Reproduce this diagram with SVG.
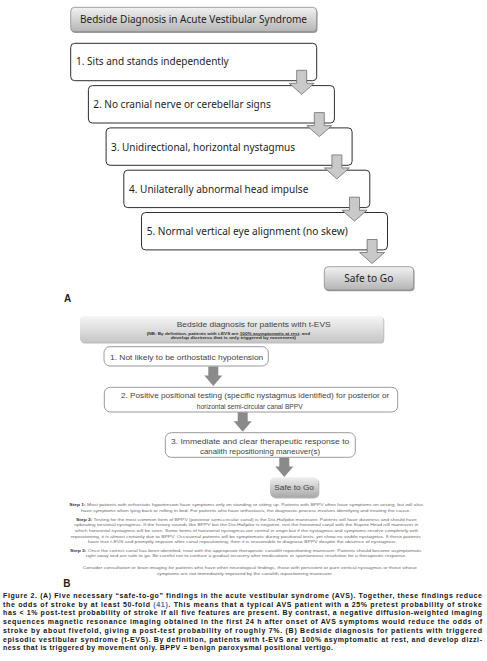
<svg xmlns="http://www.w3.org/2000/svg" width="487" height="661" viewBox="0 0 487 661">
<style>
.bg{fill:#ffffff}
.boxA{fill:#ffffff;stroke:#2e2e2e;stroke-width:1}
.txtA{font-family:"Noto Sans","Liberation Sans",sans-serif;font-size:10px;fill:#1e1e1e}
.arrA{fill:#c9c9c9;stroke:#6e6e6e;stroke-width:0.8}
.boxB{fill:#ffffff;stroke:#9a9a9a;stroke-width:1}
.txtB{font-family:"Liberation Sans",Arial,sans-serif;font-size:7.2px;fill:#444444}
.arrB{fill:#8a8a8a}
.fine{font-family:"Liberation Sans",Arial,sans-serif;font-size:4.3px;fill:#6a6a6a}
.fineb{font-weight:bold;fill:#333}
.nb{font-family:"Liberation Sans",Arial,sans-serif;font-size:4px;font-weight:bold;fill:#333}
.lbl{font-family:"Liberation Sans",Arial,sans-serif;font-size:10px;font-weight:bold;fill:#222}
.cap{font-family:"Liberation Sans",Arial,sans-serif;font-size:7px;font-weight:bold;fill:#151515}
</style>
<defs>
<linearGradient id="gA" x1="0" y1="0" x2="0" y2="1">
<stop offset="0" stop-color="#f2f2f2"/>
<stop offset="1" stop-color="#b4b4b4"/>
</linearGradient>
<linearGradient id="gB" x1="0" y1="0" x2="0" y2="1">
<stop offset="0" stop-color="#f6f6f6"/>
<stop offset="1" stop-color="#c6c6c6"/>
</linearGradient>
<linearGradient id="gS" x1="0" y1="0" x2="0" y2="1">
<stop offset="0" stop-color="#f0f0f0"/>
<stop offset="1" stop-color="#a8a8a8"/>
</linearGradient>
<path id="arrowA" d="M-5,0 H5 V13 H12.5 L0,24 L-12.5,13 H-5 Z"/>
<path id="arrowB" d="M-5,0 H5 V9 H9 L0,19.5 L-9,9 H-5 Z"/>
</defs>
<rect class="bg" x="0" y="0" width="487" height="661"/>

<g id="nodes-A">
<g id="titleA">
<rect x="71.5" y="8.5" width="246" height="24.5" rx="4" fill="#9a9a9a"/>
<rect x="70.7" y="7.3" width="246" height="24.4" rx="4" fill="url(#gA)" stroke="#8a8a8a" stroke-width="0.8"/>
<text class="txtA" x="80" y="23" textLength="227" lengthAdjust="spacingAndGlyphs">Bedside Diagnosis in Acute Vestibular Syndrome</text>
</g>
<g id="a1">
<rect class="boxA" x="70.7" y="43.3" width="246" height="37.4" rx="4"/>
<text class="txtA" x="76" y="65" textLength="152.7" lengthAdjust="spacingAndGlyphs">1. Sits and stands independently</text>
</g>
<g id="a2">
<rect class="boxA" x="88.4" y="85.6" width="246" height="37.4" rx="4"/>
<text class="txtA" x="93.3" y="108" textLength="177.4" lengthAdjust="spacingAndGlyphs">2. No cranial nerve or cerebellar signs</text>
</g>
<g id="a3">
<rect class="boxA" x="106.1" y="127.9" width="246" height="37.4" rx="4"/>
<text class="txtA" x="111" y="150.7" textLength="184" lengthAdjust="spacingAndGlyphs">3. Unidirectional, horizontal nystagmus</text>
</g>
<g id="a4">
<rect class="boxA" x="123.8" y="170.2" width="246" height="37.4" rx="4"/>
<text class="txtA" x="129" y="193" textLength="179.3" lengthAdjust="spacingAndGlyphs">4. Unilaterally abnormal head impulse</text>
</g>
<g id="a5">
<rect class="boxA" x="141.5" y="212.5" width="246" height="37.4" rx="4"/>
<text class="txtA" x="146.7" y="235.3" textLength="201" lengthAdjust="spacingAndGlyphs">5. Normal vertical eye alignment (no skew)</text>
</g>
<g id="safeA">
<rect x="325.1" y="267.8" width="89.4" height="23.4" rx="4" fill="#9a9a9a"/>
<rect x="324.3" y="266.7" width="89.4" height="23.3" rx="4" fill="url(#gA)" stroke="#8a8a8a" stroke-width="0.8"/>
<text class="txtA" x="344.3" y="282" textLength="49" lengthAdjust="spacingAndGlyphs">Safe to Go</text>
</g>
</g>

<g id="connectors-A">
<use href="#arrowA" class="arrA" transform="translate(301.7,70.3)"/>
<use href="#arrowA" class="arrA" transform="translate(319.3,112.6)"/>
<use href="#arrowA" class="arrA" transform="translate(336.9,154.9)"/>
<use href="#arrowA" class="arrA" transform="translate(354.5,197.2)"/>
<use href="#arrowA" class="arrA" transform="translate(372.1,239.5)"/>
</g>

<text class="lbl" x="64" y="302">A</text>

<g id="nodes-B">
<g id="titleB">
<rect x="81" y="317.3" width="303.3" height="26.3" rx="4" fill="#bdbdbd"/>
<rect x="80" y="316" width="303.3" height="26.3" rx="4" fill="url(#gB)"/>
<text class="txtB" x="176.7" y="327" font-size="7.5" fill="#555" textLength="154" lengthAdjust="spacingAndGlyphs">Bedside diagnosis for patients with t-EVS</text>
<text class="nb" x="146.7" y="334.5" textLength="163.3" lengthAdjust="spacingAndGlyphs">(NB: By definition, patients with t-EVS are <tspan text-decoration="underline">100% asymptomatic at rest</tspan>, and</text>
<text class="nb" x="170.7" y="339.2" textLength="125.3" lengthAdjust="spacingAndGlyphs">develop dizziness that is only triggered by movement)</text>
</g>
<g id="b1">
<rect class="boxB" x="104" y="346.7" width="164.3" height="19.3" rx="6"/>
<text class="txtB" x="110" y="359.6" textLength="153.3" lengthAdjust="spacingAndGlyphs">1. Not likely to be orthostatic hypotension</text>
</g>
<g id="b2">
<rect class="boxB" x="104.3" y="387.3" width="293.4" height="24.7" rx="6"/>
<text class="txtB" x="121" y="398.3" textLength="268.3" lengthAdjust="spacingAndGlyphs">2. Positive positional testing (specific nystagmus identified) for posterior or</text>
<text class="txtB" x="196.7" y="408.6" textLength="106" lengthAdjust="spacingAndGlyphs">horizontal semi-circular canal BPPV</text>
</g>
<g id="b3">
<rect class="boxB" x="165.3" y="432.7" width="190" height="24.6" rx="6"/>
<text class="txtB" x="171" y="443.6" font-size="7.8" textLength="178.3" lengthAdjust="spacingAndGlyphs">3. Immediate and clear therapeutic response to</text>
<text class="txtB" x="200" y="454.3" font-size="7.8" textLength="120" lengthAdjust="spacingAndGlyphs">canalith repositioning maneuver(s)</text>
</g>
<g id="safeB">
<rect x="271" y="478.5" width="48.3" height="20" rx="5" fill="#b5b5b5"/>
<rect x="270" y="477.3" width="48.3" height="20" rx="5" fill="url(#gS)"/>
<text class="txtB" x="274.3" y="490.3" font-size="8" fill="#444" textLength="39.7" lengthAdjust="spacingAndGlyphs">Safe to Go</text>
</g>
</g>

<g id="connectors-B">
<use href="#arrowB" class="arrB" transform="translate(213.3,366.5)"/>
<use href="#arrowB" class="arrB" transform="translate(242.7,412.3)"/>
<use href="#arrowB" class="arrB" transform="translate(284.3,457.5)"/>
</g>

<g id="notesB">
<text class="fine" x="69.3" y="505.8" textLength="353.4" lengthAdjust="spacingAndGlyphs"><tspan class="fineb">Step 1:</tspan> Most patients with orthostatic hypotension have symptoms only on standing or sitting up. Patients with BPPV often have symptoms on arising, but will also</text>
<text class="fine" x="81" y="511.5" textLength="329.7" lengthAdjust="spacingAndGlyphs">have symptoms when lying back or rolling in bed. For patients who have orthostasis, the diagnostic process involves identifying and treating the cause.</text>
<text class="fine" x="76" y="520.8" textLength="340.7" lengthAdjust="spacingAndGlyphs"><tspan class="fineb">Step 2:</tspan> Testing for the most common form of BPPV (posterior semi-circular canal) is the Dix-Hallpike maneuver. Patients will have dizziness and should have</text>
<text class="fine" x="74" y="526.4" textLength="344.3" lengthAdjust="spacingAndGlyphs">upbeating torsional nystagmus. If the history sounds like BPPV but the Dix-Hallpike is negative, test the horizontal canal with the Supine Head roll maneuver in</text>
<text class="fine" x="75" y="532" textLength="343.3" lengthAdjust="spacingAndGlyphs">which horizontal nystagmus will be seen. Some forms of horizontal nystagmus are central in origin but if the nystagmus and symptoms resolve completely with</text>
<text class="fine" x="70.7" y="537.6" textLength="350" lengthAdjust="spacingAndGlyphs">repositioning, it is almost certainly due to BPPV. Occasional patients will be symptomatic during positional tests, yet show no visible nystagmus. If these patients</text>
<text class="fine" x="88" y="543.4" textLength="308.7" lengthAdjust="spacingAndGlyphs">have true t-EVS and promptly improve after canal repositioning, then it is reasonable to diagnose BPPV despite the absence of nystagmus.</text>
<text class="fine" x="70" y="551.5" textLength="351.7" lengthAdjust="spacingAndGlyphs"><tspan class="fineb">Step 3:</tspan> Once the correct canal has been identified, treat with the appropriate therapeutic canalith repositioning maneuver. Patients should become asymptomatic</text>
<text class="fine" x="86" y="557.2" textLength="320.7" lengthAdjust="spacingAndGlyphs">right away and are safe to go. Be careful not to confuse a gradual recovery after medications or spontaneous resolution for a therapeutic response.</text>
<text class="fine" x="82.7" y="568.8" textLength="334" lengthAdjust="spacingAndGlyphs">Consider consultation or brain imaging for patients who have other neurological findings, those with persistent or pure vertical nystagmus or those whose</text>
<text class="fine" x="156.7" y="574.8" textLength="176" lengthAdjust="spacingAndGlyphs">symptoms are not immediately improved by the canalith repositioning maneuver.</text>
</g>

<text class="lbl" x="63.3" y="587">B</text>

<g id="caption">
<text class="cap" x="3" y="598" textLength="479" lengthAdjust="spacing">Figure 2. (A) Five necessary “safe-to-go” findings in the acute vestibular syndrome (AVS). Together, these findings reduce</text>
<text class="cap" x="3" y="606.7" textLength="479" lengthAdjust="spacing">the odds of stroke by at least 50-fold <tspan fill="#3d6fa8">(41)</tspan>. This means that a typical AVS patient with a 25% pretest probability of stroke</text>
<text class="cap" x="3" y="615.4" textLength="479" lengthAdjust="spacing">has &lt; 1% post-test probability of stroke if all five features are present. By contrast, a negative diffusion-weighted imaging</text>
<text class="cap" x="3" y="624.1" textLength="479" lengthAdjust="spacing">sequences magnetic resonance imaging obtained in the first 24 h after onset of AVS symptoms would reduce the odds of</text>
<text class="cap" x="3" y="632.8" textLength="479" lengthAdjust="spacing">stroke by about fivefold, giving a post-test probability of roughly 7%. (B) Bedside diagnosis for patients with triggered</text>
<text class="cap" x="3" y="641.5" textLength="479" lengthAdjust="spacing">episodic vestibular syndrome (t-EVS). By definition, patients with t-EVS are 100% asymptomatic at rest, and develop dizzi-</text>
<text class="cap" x="3" y="650.2" textLength="330" lengthAdjust="spacing">ness that is triggered by movement only. BPPV = benign paroxysmal positional vertigo.</text>
</g>
</svg>
